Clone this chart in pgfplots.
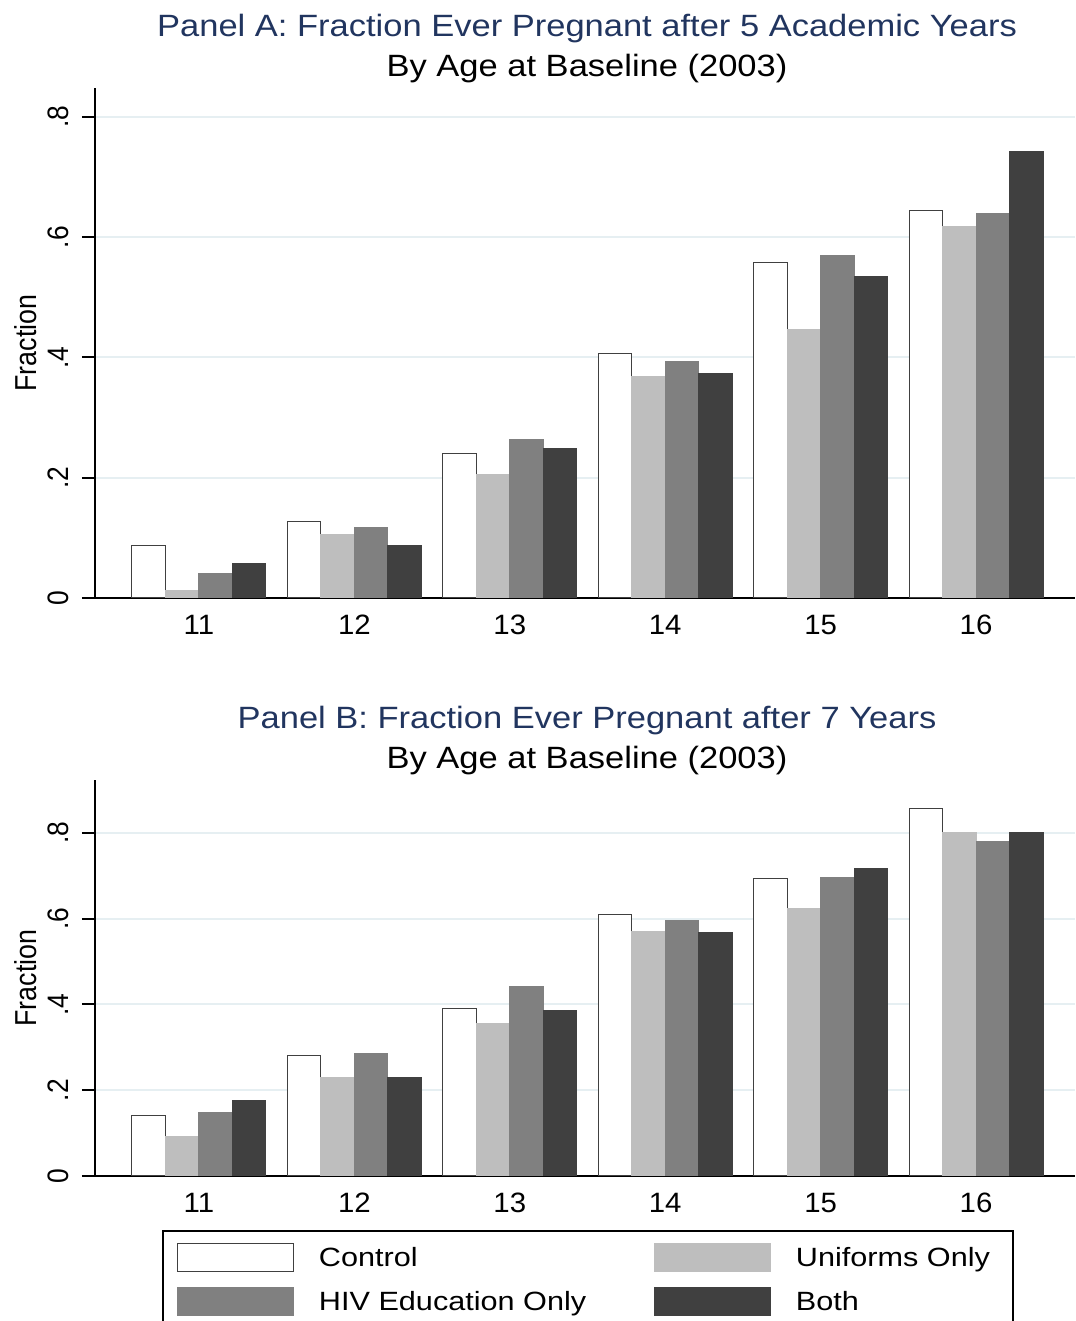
\documentclass[border=0pt]{standalone}
\usepackage{pgfplots}
\usepackage{pgfplotstable}
\pgfplotsset{compat=1.18}
\usepackage{fontspec}
\setmainfont{Liberation Sans}
\definecolor{ttl}{RGB}{33,53,95}
\definecolor{gridc}{RGB}{230,239,242}
\definecolor{cU}{RGB}{190,190,190}
\definecolor{cH}{RGB}{128,128,128}
\definecolor{cB}{RGB}{64,64,64}
\newcommand{\hs}[2]{\scalebox{#1}[1]{#2}}
\newcommand{\vs}[2]{\scalebox{1}[#1]{#2}}

\pgfplotstableread{
age ctrl unif hiv both
11 0.088 0.013 0.040 0.058
12 0.128 0.105 0.118 0.088
13 0.240 0.205 0.264 0.248
14 0.406 0.369 0.394 0.373
15 0.557 0.447 0.569 0.534
16 0.644 0.617 0.639 0.742
}\dataA

\pgfplotstableread{
age ctrl unif hiv both
11 0.142 0.091 0.149 0.177
12 0.280 0.229 0.285 0.229
13 0.390 0.355 0.443 0.387
14 0.609 0.571 0.597 0.567
15 0.693 0.625 0.695 0.718
16 0.856 0.802 0.779 0.800
}\dataB

\pgfplotsset{
 mystyle/.style={
  scale only axis, width=490pt,
  xmin=10.331, xmax=16.637, ymin=0,
  axis x line*=bottom, axis y line*=left,
  axis line style={-, line width=1pt, black},
  xtick={11,12,13,14,15,16},
  xticklabels={\hs{1.05}{11},\hs{1.05}{12},\hs{1.05}{13},\hs{1.05}{14},\hs{1.05}{15},\hs{1.05}{16}},
  xticklabel style={font=\fontsize{14}{14}\selectfont, anchor=north, inner sep=0pt, yshift=-2pt},
  ytick={0,0.2,0.4,0.6,0.8},
  yticklabels={\vs{1.12}{0},\vs{1.12}{.2},\vs{1.12}{.4},\vs{1.12}{.6},\vs{1.12}{.8}},
  yticklabel style={font=\fontsize{13.2}{13.2}\selectfont, xshift=-6.5pt, rotate=90, anchor=south, inner sep=0pt},
  tick align=outside, major tick length=6.5pt,
  x tick style={draw=none},
  y tick style={line width=1pt, black},
  ymajorgrids, grid style={gridc, line width=1pt},
  ybar=0pt, bar width=0.2156,
  ylabel={\vs{1.13}{Fraction}},
  every axis y label/.style={at={(axis description cs:0,0.5)}, xshift=-29pt, rotate=90, anchor=south, inner sep=0pt, font=\fontsize{13.4}{13.4}\selectfont},
 },
 pC/.style={fill=white, draw=black!75, line width=0.5pt, bar shift=-0.3234},
 pU/.style={fill=cU, draw=cU, line width=0.5pt, bar shift=-0.1078},
 pH/.style={fill=cH, draw=cH, line width=0.5pt, bar shift=0.1078},
 pB/.style={fill=cB, draw=cB, line width=0.5pt, bar shift=0.3234},
}

\begin{document}
\begin{tikzpicture}
\begin{axis}[mystyle, name=A, at={(47.5pt,361.5pt)}, anchor=south west,
  height=255pt, ymax=0.848]
\addplot[pC] table[x=age,y=ctrl]{\dataA};
\addplot[pU] table[x=age,y=unif]{\dataA};
\addplot[pH] table[x=age,y=hiv]{\dataA};
\addplot[pB] table[x=age,y=both]{\dataA};
\end{axis}
\node[anchor=base, inner sep=0pt, text=ttl, font=\fontsize{15.4}{15.4}\selectfont, yshift=25.5pt, xshift=1pt] at (A.north) {\hs{1.12}{Panel A: Fraction Ever Pregnant after 5 Academic Years}};
\node[anchor=base, inner sep=0pt, text=black, font=\fontsize{15.4}{15.4}\selectfont, yshift=5.5pt, xshift=1pt] at (A.north) {\hs{1.12}{By Age at Baseline (2003)}};

\begin{axis}[mystyle, name=B, at={(47.5pt,72.5pt)}, anchor=south west,
  height=198pt, ymax=0.9236,
  legend columns=2, legend cell align=left,
  legend image code/.code={\draw[#1, bar shift=0pt] (0pt,-7pt) rectangle (58pt,7pt);},
  legend style={at={(axis description cs:0.069388,-0.138889)}, anchor=north west,
    draw=black, line width=1pt, inner xsep=7pt, inner ysep=6pt, outer sep=0pt,
    row sep=7.5pt, font=\fontsize{13.2}{13.2}\selectfont,
    nodes={inner sep=0pt, text height=11.5pt, text depth=2.2pt},
    /tikz/every odd column/.append style={column sep=12.5pt},
    /tikz/every even column/.append style={column sep=0pt}}]
\addplot[pC] table[x=age,y=ctrl]{\dataB};
\addlegendentry{\makebox[167.5pt][l]{\hs{1.16}{Control}}}
\addplot[pU] table[x=age,y=unif]{\dataB};
\addlegendentry{\makebox[101.5pt][l]{\hs{1.16}{Uniforms Only}}}
\addplot[pH] table[x=age,y=hiv]{\dataB};
\addlegendentry{\makebox[167.5pt][l]{\hs{1.16}{HIV Education Only}}}
\addplot[pB] table[x=age,y=both]{\dataB};
\addlegendentry{\makebox[101.5pt][l]{\hs{1.16}{Both}}}
\end{axis}
\node[anchor=base, inner sep=0pt, text=ttl, font=\fontsize{15.4}{15.4}\selectfont, yshift=25.5pt, xshift=1pt] at (B.north) {\hs{1.12}{Panel B: Fraction Ever Pregnant after 7 Years}};
\node[anchor=base, inner sep=0pt, text=black, font=\fontsize{15.4}{15.4}\selectfont, yshift=5.5pt, xshift=1pt] at (B.north) {\hs{1.12}{By Age at Baseline (2003)}};

\pgfresetboundingbox
\path[use as bounding box] (0pt,0pt) rectangle (537.5pt,660.5pt);
\end{tikzpicture}
\end{document}
